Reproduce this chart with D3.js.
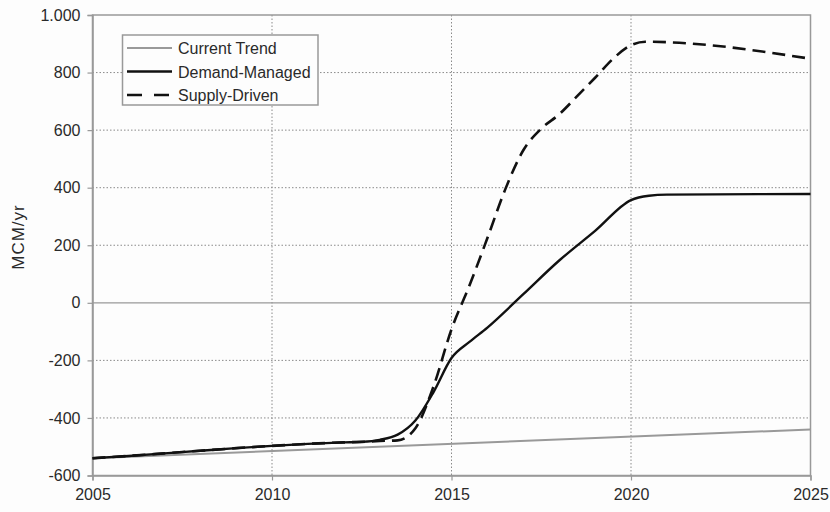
<!DOCTYPE html>
<html>
<head>
<meta charset="utf-8">
<script src="https://cdn.jsdelivr.net/npm/d3@7"></script>
<style>
  html, body { margin: 0; padding: 0; background: #fdfdfd; }
  svg { display: block; font-family: "Liberation Sans", Arial, sans-serif; }
</style>
</head>
<body>
<svg id="chart" width="830" height="512"></svg>
<script>
// Annual water balance scenarios (MCM/yr)
const currentTrendYears = [2005, 2025];
const currentTrendValues = [-540, -440];

const demandYears  = [2005, 2006, 2007, 2008, 2009, 2010, 2011, 2012, 2012.5, 2013, 2013.5, 2014, 2014.5, 2015, 2015.5, 2016, 2017, 2018, 2019, 2020, 2020.5, 2021, 2025];
const demandValues = [-540, -532, -523, -514, -505, -497, -490, -485, -483, -476, -458, -408, -310, -192, -136, -86, 30, 147, 250, 357, 372, 376, 378];

const supplyYears  = [2005, 2006, 2007, 2008, 2009, 2010, 2011, 2012, 2012.5, 2013, 2013.5, 2014, 2014.5, 2015, 2015.5, 2016, 2016.5, 2017, 2017.5, 2018, 2018.5, 2019, 2019.5, 2020, 2020.4, 2025];
const supplyValues = [-540, -532, -523, -514, -505, -497, -490, -485, -483, -480, -478, -435, -290, -92, 60, 225, 395, 530, 605, 655, 718, 782, 848, 895, 907, 848];

const xTicks = [2005, 2010, 2015, 2020, 2025];
const yTicks = [-600, -400, -200, 0, 200, 400, 600, 800, 1000];
const yTickLabels = ["-600", "-400", "-200", "0", "200", "400", "600", "800", "1.000"];

const seriesNames = ["Current Trend", "Demand-Managed", "Supply-Driven"];

const svg = d3.select("#chart");
const plotLeft = 92.5, plotRight = 810.5, plotTop = 15, plotBottom = 475.5;

const x = d3.scaleLinear().domain([2005, 2025]).range([plotLeft, plotRight]);
const y = d3.scaleLinear().domain([-600, 1000]).range([plotBottom, plotTop]);

const grey = "#999";
const textColor = "#2a2a2a";

// gridlines
const grid = svg.append("g");
grid.selectAll("line.h").data(yTicks.filter(v => v !== -600 && v !== 1000 && v !== 0))
  .join("line")
  .attr("x1", plotLeft).attr("x2", plotRight)
  .attr("y1", d => y(d)).attr("y2", d => y(d))
  .attr("stroke", "#8a8a8a").attr("stroke-width", 1)
  .attr("stroke-dasharray", "1.5,2");
grid.selectAll("line.v").data(xTicks.filter(v => v !== 2005 && v !== 2025))
  .join("line")
  .attr("y1", plotTop).attr("y2", plotBottom)
  .attr("x1", d => x(d)).attr("x2", d => x(d))
  .attr("stroke", "#8a8a8a").attr("stroke-width", 1)
  .attr("stroke-dasharray", "1.5,2");
// zero line
grid.append("line")
  .attr("x1", plotLeft).attr("x2", plotRight)
  .attr("y1", y(0)).attr("y2", y(0))
  .attr("stroke", grey).attr("stroke-width", 1.2);

// frame
svg.append("rect")
  .attr("x", plotLeft).attr("y", plotTop)
  .attr("width", plotRight - plotLeft).attr("height", plotBottom - plotTop)
  .attr("fill", "none").attr("stroke", grey).attr("stroke-width", 1.5);

// axes
const yAxis = d3.axisLeft(y).tickValues(yTicks)
  .tickFormat((d, i) => yTickLabels[i]).tickSize(5).tickPadding(7);
const gy = svg.append("g").attr("transform", `translate(${plotLeft},0)`).call(yAxis);
const xAxis = d3.axisBottom(x).tickValues(xTicks)
  .tickFormat(d3.format("d")).tickSize(5).tickPadding(8);
const gx = svg.append("g").attr("transform", `translate(0,${plotBottom})`).call(xAxis);
[gx, gy].forEach(g => {
  g.select(".domain").attr("stroke", grey).attr("stroke-width", 1.5);
  g.selectAll(".tick line").attr("stroke", grey).attr("stroke-width", 1.2);
  g.selectAll(".tick text").attr("fill", textColor).style("font-size", "16px")
    .style("font-family", "'Liberation Sans', Arial, sans-serif");
});

// y axis title
svg.append("text")
  .attr("transform", `translate(24,237) rotate(-90)`)
  .attr("text-anchor", "middle")
  .attr("fill", textColor)
  .style("font-size", "17px")
  .style("letter-spacing", "1px")
  .text("MCM/yr");

// series
const line = d3.line().x(d => x(d[0])).y(d => y(d[1])).curve(d3.curveMonotoneX);
const zip = (a, b) => a.map((v, i) => [v, b[i]]);

svg.append("path").datum(zip(currentTrendYears, currentTrendValues))
  .attr("d", line).attr("fill", "none")
  .attr("stroke", grey).attr("stroke-width", 2);
svg.append("path").datum(zip(demandYears, demandValues))
  .attr("d", line).attr("fill", "none")
  .attr("stroke", "#111").attr("stroke-width", 2.4);
svg.append("path").datum(zip(supplyYears, supplyValues))
  .attr("d", line).attr("fill", "none")
  .attr("stroke", "#111").attr("stroke-width", 2.6)
  .attr("stroke-dasharray", "13,7");

// legend
const lg = svg.append("g");
lg.append("rect")
  .attr("x", 122.5).attr("y", 35).attr("width", 195.5).attr("height", 70)
  .attr("fill", "#fdfdfd").attr("stroke", grey).attr("stroke-width", 1.5);
const styles = [
  { stroke: grey, width: 2, dash: null },
  { stroke: "#111", width: 2.4, dash: null },
  { stroke: "#111", width: 2.6, dash: "15,12" }
];
seriesNames.forEach((name, i) => {
  const yy = 48 + i * 23.5;
  const l = lg.append("line")
    .attr("x1", 127).attr("x2", 172)
    .attr("y1", yy).attr("y2", yy)
    .attr("stroke", styles[i].stroke).attr("stroke-width", styles[i].width);
  if (styles[i].dash) l.attr("stroke-dasharray", styles[i].dash);
  lg.append("text")
    .attr("x", 178).attr("y", yy + 6)
    .attr("fill", textColor).style("font-size", "16px")
    .text(name);
});
</script>
</body>
</html>
